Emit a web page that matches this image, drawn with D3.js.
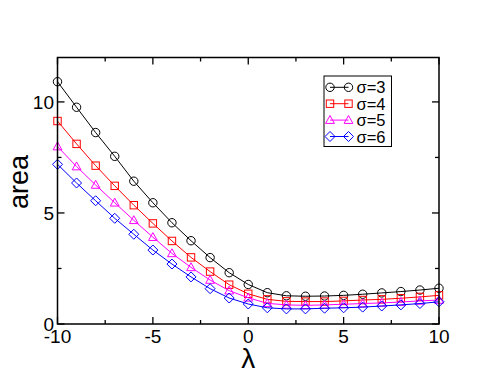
<!DOCTYPE html>
<html>
<head>
<meta charset="utf-8">
<script src="https://cdn.jsdelivr.net/npm/d3@7"></script>
<style>
  body { margin: 0; background: #fff; }
  svg { display: block; font-family: "Liberation Sans", Arial, sans-serif; }
</style>
</head>
<body>
<div id="chart"></div>
<script>
// lambda values on the x axis
const lambdas = [-10, -9, -8, -7, -6, -5, -4, -3, -2, -1, 0, 1, 2, 3, 4, 5, 6, 7, 8, 9, 10];

// area for each sigma
const area3 = [10.91, 9.76, 8.62, 7.55, 6.43, 5.46, 4.56, 3.75, 2.99, 2.31, 1.78, 1.41, 1.27, 1.25, 1.26, 1.29, 1.34, 1.40, 1.46, 1.53, 1.61];
const area4 = [9.14, 8.11, 7.13, 6.22, 5.35, 4.53, 3.74, 3.00, 2.36, 1.77, 1.36, 1.11, 1.02, 1.01, 1.01, 1.04, 1.08, 1.11, 1.16, 1.22, 1.29];
const area5 = [7.99, 7.09, 6.26, 5.46, 4.67, 3.91, 3.18, 2.55, 1.98, 1.50, 1.18, 0.93, 0.86, 0.84, 0.86, 0.89, 0.92, 0.95, 0.99, 1.04, 1.08];
const area6 = [7.19, 6.35, 5.55, 4.76, 4.04, 3.33, 2.70, 2.12, 1.59, 1.17, 0.90, 0.73, 0.68, 0.68, 0.71, 0.73, 0.76, 0.81, 0.86, 0.92, 1.00];

const seriesNames = ["σ=3", "σ=4", "σ=5", "σ=6"];
const seriesColors = ["#000000", "#ff0000", "#ff00ff", "#0000ff"];
const seriesShapes = ["circle", "square", "triangle", "diamond"];

const xTicks = [-10, -5, 0, 5, 10];
const yTicks = [0, 5, 10];

const width = 494, height = 382;
const margin = {top: 57.5, right: 55, bottom: 58, left: 57.5};

const svg = d3.select("#chart").append("svg")
    .attr("width", width)
    .attr("height", height);

const x = d3.scaleLinear().domain([-10, 10]).range([margin.left, width - margin.right]);
const y = d3.scaleLinear().domain([0, 12]).range([height - margin.bottom, margin.top]);

const series = [area3, area4, area5, area6].map((vals, i) => ({
    name: seriesNames[i],
    color: seriesColors[i],
    shape: seriesShapes[i],
    points: lambdas.map((l, j) => ({x: l, y: vals[j]}))
}));

//draws one marker of the given shape centered on 0,0
function marker(g, shape, color) {
    if (shape == "circle") {
        g.append("circle").attr("r", 4.2);
    } else if (shape == "square") {
        g.append("rect").attr("x", -3.7).attr("y", -3.7).attr("width", 7.4).attr("height", 7.4);
    } else if (shape == "triangle") {
        g.append("path").attr("d", "M0,-4.6L4.4,3.3L-4.4,3.3Z");
    } else {
        g.append("path").attr("d", "M0,-5L5,0L0,5L-5,0Z");
    }
    g.selectAll("*").attr("fill", "none").attr("stroke", color).attr("stroke-width", 1);
}

const line = d3.line().x(d => x(d.x)).y(d => y(d.y));

series.forEach(s => {
    svg.append("path")
        .datum(s.points)
        .attr("d", line)
        .attr("fill", "none")
        .attr("stroke", s.color)
        .attr("stroke-width", 1);

    svg.selectAll(null)
        .data(s.points)
        .enter()
        .append("g")
        .attr("transform", d => "translate(" + x(d.x) + "," + y(d.y) + ")")
        .each(function () { marker(d3.select(this), s.shape, s.color); });
});

// frame and inward ticks on all four sides
const x0 = x.range()[0], x1 = x.range()[1], y0 = y.range()[0], y1 = y.range()[1];
const xMinor = d3.range(-10, 10.01, 2.5);
const yMinor = d3.range(0, 12.01, 2.5);

const axisG = svg.append("g").attr("stroke", "#000").attr("stroke-width", 1.3);
xMinor.forEach(v => {
    const len = xTicks.includes(v) ? 7 : 4;
    axisG.append("line").attr("x1", x(v)).attr("x2", x(v)).attr("y1", y0).attr("y2", y0 - len);
    axisG.append("line").attr("x1", x(v)).attr("x2", x(v)).attr("y1", y1).attr("y2", y1 + len);
});
yMinor.forEach(v => {
    const len = yTicks.includes(v) ? 7 : 4;
    axisG.append("line").attr("x1", x0).attr("x2", x0 + len).attr("y1", y(v)).attr("y2", y(v));
    axisG.append("line").attr("x1", x1).attr("x2", x1 - len).attr("y1", y(v)).attr("y2", y(v));
});
svg.append("rect")
    .attr("x", x0).attr("y", y1)
    .attr("width", x1 - x0).attr("height", y0 - y1)
    .attr("fill", "none").attr("stroke", "#000").attr("stroke-width", 1.5);

svg.selectAll(".xlab")
    .data(xTicks)
    .enter().append("text")
    .attr("x", d => x(d))
    .attr("y", y0 + 19)
    .attr("text-anchor", "middle")
    .attr("font-size", 19)
    .text(d => d);

svg.selectAll(".ylab")
    .data(yTicks)
    .enter().append("text")
    .attr("x", x0 - 3.5)
    .attr("y", d => y(d) + 6.7)
    .attr("text-anchor", "end")
    .attr("font-size", 19)
    .text(d => d);

svg.append("text")
    .attr("x", (x0 + x1) / 2)
    .attr("y", 368)
    .attr("text-anchor", "middle")
    .attr("font-size", 28)
    .text("λ");

svg.append("text")
    .attr("transform", "translate(28,182) rotate(-90)")
    .attr("text-anchor", "middle")
    .attr("font-size", 27)
    .text("area");

// legend
const legend = svg.append("g");
legend.append("rect")
    .attr("x", 324).attr("y", 76)
    .attr("width", 67.5).attr("height", 70.5)
    .attr("fill", "#fff").attr("stroke", "#000").attr("stroke-width", 1);

series.forEach((s, i) => {
    const ly = 87.3 + i * 16.4;
    legend.append("line")
        .attr("x1", 330).attr("x2", 348.5)
        .attr("y1", ly).attr("y2", ly)
        .attr("stroke", s.color).attr("stroke-width", 1);
    [330, 348.5].forEach(px => {
        const g = legend.append("g").attr("transform", "translate(" + px + "," + ly + ")");
        marker(g, s.shape, s.color);
    });
    legend.append("text")
        .attr("x", 356.5)
        .attr("y", ly + 6)
        .attr("font-size", 16.5)
        .text(s.name);
});
</script>
</body>
</html>
